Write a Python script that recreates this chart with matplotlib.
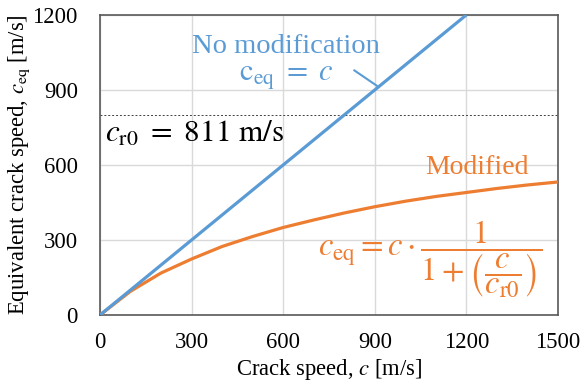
import numpy as np
import matplotlib.pyplot as plt

plt.rcParams['font.family'] = ['Liberation Serif', 'DejaVu Serif']
plt.rcParams['mathtext.fontset'] = 'stix'

# data
c_nomod = [0, 1200]
ceq_nomod = [0, 1200]

c_mod = [0, 100, 200, 300, 400, 500, 600, 700, 800, 900, 1000, 1100, 1200, 1300, 1400, 1500]
ceq_mod = [0, 95, 168, 224, 274, 314, 350, 380, 408, 433, 455, 474, 490, 506, 520, 532]

c_r0 = 800
xticks = [0, 300, 600, 900, 1200, 1500]
yticks = [0, 300, 600, 900, 1200]

blue = '#5B9BD5'
orange = '#ED7D31'

fig = plt.figure(figsize=(5.83, 3.83), dpi=100)
ax = fig.add_axes([0.1715, 0.1775, 0.7855, 0.7835])

ax.plot(c_mod, ceq_mod, color=orange, lw=2.3, zorder=3, solid_capstyle='butt')
ax.plot(c_nomod, ceq_nomod, color=blue, lw=2.3, zorder=4, solid_capstyle='butt')
ax.axhline(c_r0, color='#404040', lw=0.7, ls=(0, (2, 2)), zorder=2)

ax.set_xlim(0, 1500)
ax.set_ylim(0, 1200)
ax.set_xticks(xticks)
ax.set_yticks(yticks)
ax.tick_params(length=0, labelsize=16.3)
ax.tick_params(axis='y', pad=16)
ax.tick_params(axis='x', pad=12)
ax.grid(True, color='#D9D9D9', lw=1)
ax.set_axisbelow(True)
for s in ax.spines.values():
    s.set_color('#595959')
    s.set_linewidth(1.2)

ax.set_xlabel('Crack speed, $c$ [m/s]', fontsize=16.3, labelpad=3)
ax.set_ylabel('Equivalent crack speed, $c_{\\mathrm{eq}}$ [m/s]', fontsize=16.3, labelpad=0)

ax.text(609, 1072, 'No modification', color=blue, fontsize=20.5, ha='center', va='center')
ax.text(612, 948, '$\\mathrm{c}_{\\mathrm{eq}}\\ =\\ c$', color=blue, fontsize=22, ha='center', va='center')
ax.annotate('', xy=(915, 910), xytext=(825, 985),
            arrowprops=dict(arrowstyle='-', color=blue, lw=1.5))

ax.text(16, 722, '$c_{\\mathrm{r0}}\\ =\\ 811\\ \\mathrm{m/s}$', color='black', fontsize=22.5,
        ha='left', va='center')

ax.text(1235, 588, 'Modified', color=orange, fontsize=20, ha='center', va='center')
ax.text(1081, 222, '$c_{\\mathrm{eq}} = c \\cdot \\dfrac{1}{1 + \\left(\\dfrac{c}{c_{\\mathrm{r0}}}\\right)}$',
        color=orange, fontsize=23.5, ha='center', va='center')

fig.savefig('out.png', dpi=100)
